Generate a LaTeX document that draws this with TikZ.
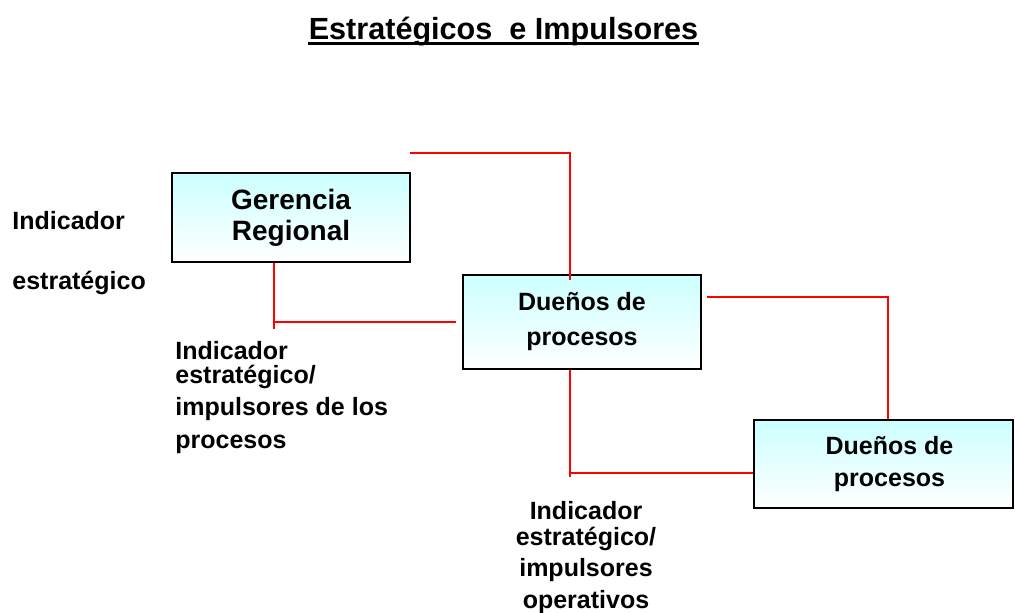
\documentclass[tikz,border=0pt]{standalone}
\usepackage{fontspec}
\setmainfont{Liberation Sans}
\usepackage{tikz}
\usetikzlibrary{positioning}
\definecolor{boxtop}{RGB}{204,255,255}
\definecolor{linkred}{RGB}{255,0,0}
\tikzset{node distance=2.5cm, auto,
  box/.style={draw=black, line width=1.2pt, top color=boxtop, bottom color=white,
              align=center, inner sep=0pt, font=\bfseries},
  conn/.style={draw=linkred, line width=1pt},
  lbl/.style={inner sep=0pt, font=\bfseries\fontsize{12.5}{12}\selectfont}}

\begin{document}
\begin{tikzpicture}[x=0.5pt, y=-0.5pt]
                \useasboundingbox (0,0) rectangle (1015,613);
                \node (title) [inner sep=0pt, anchor=base, font=\bfseries\fontsize{15.3}{18}\selectfont]
                      at (503.5,40) {Estratégicos~ e Impulsores};
                \draw[line width=1.5pt] ([yshift=-2pt]title.base west) -- ([yshift=-2pt]title.base east);
                \node (gerencia) [box, minimum width=119pt, minimum height=44.5pt,
                      font=\bfseries\fontsize{14}{15.5}\selectfont] at (291,217.5) {Gerencia\\Regional};
                \node (duenos) [box, minimum width=119pt, minimum height=47pt,
                      font=\bfseries\fontsize{12.5}{17.5}\selectfont] at (582,322) {Dueños de\\procesos};
                \node (duenosop) [box, minimum width=129.5pt, minimum height=44pt,
                      font=\bfseries\fontsize{12.5}{16}\selectfont] at (883.5,464) {\hspace*{6pt}Dueños de\\\hspace*{6pt}procesos};
                \node (indest) [lbl, anchor=north west, align=left] at (12,211) {Indicador\\[18pt]estratégico};
                \node (indproc) [lbl, anchor=north west, align=left] at (175,341) {Indicador\\estratégico/\\[4pt]impulsores de los\\[4.5pt]procesos};
                \node (indop) [lbl, anchor=north, align=center] at (586,501) {Indicador\\[1pt]estratégico/\\[3.5pt]impulsores\\[4pt]operativos};
                \coordinate (top) at (410,153);
                \coordinate (opjoin) at ([yshift=-4.5pt]duenosop.west);
                \draw[conn] (top) -| ([xshift=-6pt,yshift=-3pt]duenos.north);
                \draw[conn] ([xshift=-8.5pt]gerencia.south) |- ([xshift=-3pt]duenos.west);
                \draw[conn] ([xshift=-8.5pt]gerencia.south |- duenos.west) -- ++(0,7);
                \draw[conn] ([xshift=2.5pt,yshift=12.5pt]duenos.east) -| ([xshift=2.25pt]duenosop.north);
                \draw[conn] ([xshift=-6pt]duenos.south) |- (opjoin);
                \draw[conn] ([xshift=-6pt]duenos.south |- opjoin) -- ++(0,4);
              \end{tikzpicture}
\end{document}
